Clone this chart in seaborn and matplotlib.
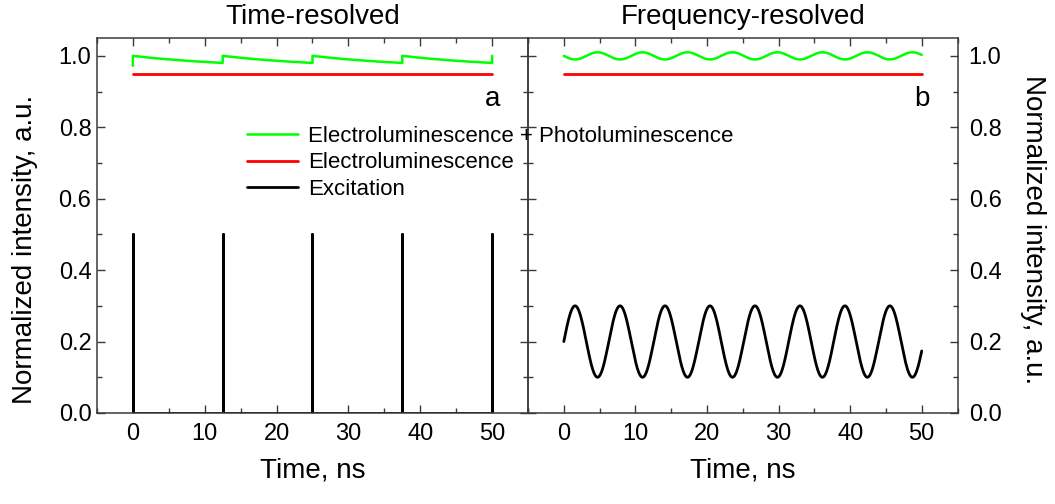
import numpy as np
import pandas as pd
import matplotlib
matplotlib.use("Agg")
import matplotlib.pyplot as plt
from matplotlib.ticker import MultipleLocator
import seaborn as sns

# ---- signal parameters (normalized intensity, time in ns) ----
el_level = 0.95             # steady electroluminescence
t_start, t_end = 0.0, 50.0

# time-resolved case: short excitation pulses
pulse_times = [0.0, 12.5, 25.0, 37.5, 50.0]
pulse_height = 0.5
pl_pre_pulse = 0.972        # EL+PL before the first pulse
pl_peak = 1.00              # EL+PL right after a pulse
pl_floor = 0.965            # asymptote of the PL decay
pl_tau = 15.0               # PL decay time

# frequency-resolved case: sinusoidally modulated excitation
mod_mean = 0.20
mod_amp = 0.10
mod_period = 2 * np.pi
pl_mod_mean = 1.00
pl_mod_amp = 0.01
pl_mod_lag = np.pi          # phase of the PL response

labels = ["Electroluminescence + Photoluminescence",
          "Electroluminescence", "Excitation"]
colors = ["#00ff00", "#ff0000", "#000000"]
titles = ["Time-resolved", "Frequency-resolved"]
panel_tags = ["a", "b"]
x_ticks = [0, 10, 20, 30, 40, 50]
y_ticks = [0.0, 0.2, 0.4, 0.6, 0.8, 1.0]

# ---- build the traces ----
# excitation pulse train
pt, pv = [t_start], [0.0]
for tp in pulse_times:
    pt += [tp, tp, tp]
    pv += [0.0, pulse_height, 0.0]
pulse_df = pd.DataFrame({"t": pt, "v": pv})

# EL+PL with a decay after each pulse
gt, gv = [t_start], [pl_pre_pulse]
for t0, t1 in zip(pulse_times[:-1], pulse_times[1:]):
    seg = np.linspace(t0, t1, 60)
    gt += list(seg)
    gv += list(pl_floor + (pl_peak - pl_floor) * np.exp(-(seg - t0) / pl_tau))
gt.append(pulse_times[-1])
gv.append(pl_peak)
decay_df = pd.DataFrame({"t": gt, "v": gv})

tt = np.linspace(t_start, t_end, 1500)
w = 2 * np.pi / mod_period
mod_df = pd.DataFrame({"t": tt, "v": mod_mean + mod_amp * np.sin(w * tt)})
resp_df = pd.DataFrame({"t": tt,
                        "v": pl_mod_mean + pl_mod_amp * np.sin(w * tt - pl_mod_lag)})
el_df = pd.DataFrame({"t": [t_start, t_end], "v": [el_level, el_level]})

# ---- figure ----
sns.set_theme(style="ticks")
plt.rcParams["font.family"] = ["Liberation Sans", "DejaVu Sans"]
plt.rcParams["text.color"] = "black"
plt.rcParams["axes.labelcolor"] = "black"
spine_col = "#3a3a3a"

fig = plt.figure(figsize=(10.55, 5.04), dpi=100)
ax1 = fig.add_axes([0.0919, 0.1806, 0.4086, 0.7440])
ax2 = fig.add_axes([0.5005, 0.1806, 0.4071, 0.7440])
ax2.patch.set_alpha(0)

panels = [(ax1, decay_df, pulse_df), (ax2, resp_df, mod_df)]
for i, (ax, green_df, exc_df) in enumerate(panels):
    sns.lineplot(data=green_df, x="t", y="v", ax=ax, color=colors[0],
                 lw=1.8, sort=False, estimator=None, label=labels[0])
    sns.lineplot(data=el_df, x="t", y="v", ax=ax, color=colors[1],
                 lw=2.0, sort=False, estimator=None, label=labels[1])
    sns.lineplot(data=exc_df, x="t", y="v", ax=ax, color=colors[2],
                 lw=2.0, sort=False, estimator=None, label=labels[2])
    ax.get_legend().remove()
    ax.set_xlim(-5, 55)
    ax.set_ylim(0, 1.05)
    ax.set_xticks(x_ticks)
    ax.set_yticks(y_ticks)
    ax.xaxis.set_minor_locator(MultipleLocator(5))
    ax.yaxis.set_minor_locator(MultipleLocator(0.1))
    ax.set_yticklabels([f"{v:.1f}" for v in y_ticks])
    ax.tick_params(which="both", direction="in", top=True, right=True,
                   left=True, bottom=True, color=spine_col, width=1.0,
                   labelsize=17, labelcolor="black")
    ax.tick_params(which="major", length=6)
    ax.tick_params(which="minor", length=3.5)
    ax.tick_params(axis="x", pad=7)
    for s in ax.spines.values():
        s.set_visible(True)
        s.set_color(spine_col)
        s.set_linewidth(1.1)
    ax.set_title(titles[i], fontsize=20, pad=10, color="black")
    ax.set_xlabel("Time, ns", fontsize=20, labelpad=9)
    ax.text(50, 0.88, panel_tags[i], fontsize=20, ha="center", va="center")

ax1.tick_params(axis="y", labelleft=True, labelright=False, pad=4)
ax1.set_ylabel("Normalized intensity, a.u.", fontsize=20, labelpad=15)
ax1.yaxis.label.set_y(0.435)
ax2.tick_params(axis="y", labelleft=False, labelright=True, pad=8)
ax2.yaxis.set_label_position("right")
ax2.set_ylabel("Normalized intensity, a.u.", fontsize=20, rotation=270,
               labelpad=32)
ax2.yaxis.label.set_y(0.488)

handles, leg_labels = ax1.get_legend_handles_labels()
fig.legend(handles, leg_labels, loc="center left",
           bbox_to_anchor=(247 / 1055, 1 - 163 / 504),
           bbox_transform=fig.transFigure, frameon=False, fontsize=16,
           handlelength=2.3, handletextpad=0.45, labelspacing=0.25,
           borderpad=0, borderaxespad=0)

fig.savefig("out.png", dpi=100)
